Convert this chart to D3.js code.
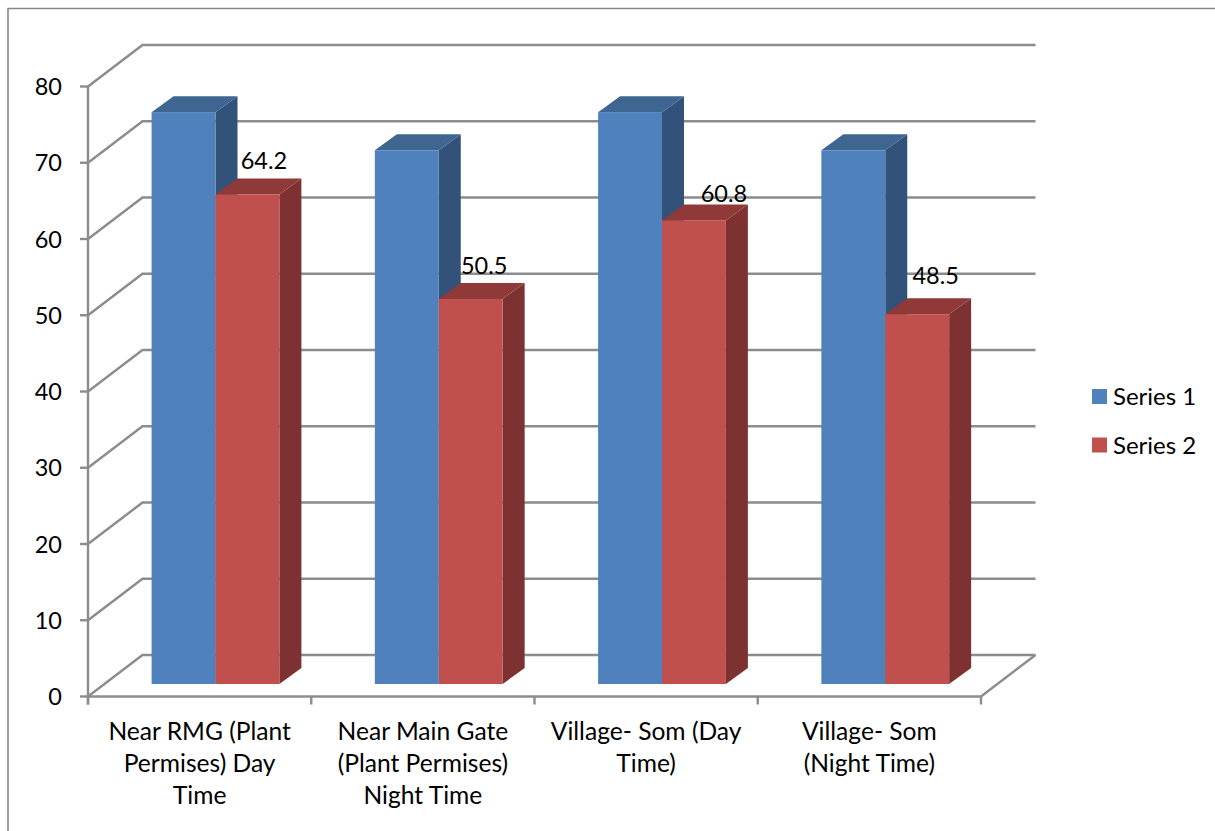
<!DOCTYPE html>
<html><head><meta charset="utf-8">
<script src="https://cdn.jsdelivr.net/npm/d3@7"></script>
<style>html,body{margin:0;padding:0;background:#fff}svg{display:block}text{font-family:Lato,"Open Sans",sans-serif;fill:#000}</style>
</head><body><svg id="c" width="1215" height="831"></svg>
<script>
const categories=[["Near RMG (Plant","Permises) Day","Time"],["Near Main Gate","(Plant Permises)","Night Time"],["Village- Som (Day","Time)"],["Village- Som","(Night Time)"]];
const categoryIds=[0,1,2,3];
const seriesNames=["Series 1","Series 2"];
const series1=[75,70,75,70];
const series2=[64.2,50.5,60.8,48.5];
const labels2=["64.2","50.5","60.8","48.5"];
const yTicks=[0,10,20,30,40,50,60,70,80];
const colors=[{f:"#4f81bd",t:"#3f6591",s:"#32527a"},{f:"#c0504d",t:"#8f3a38",s:"#7d3130"}];
const labelNudgeX=[-2.5,-5.5,11,-0.5];
const labelNudgeY=[0,0,7,-5];

const svg=d3.select("#c");
const grid="#8c8c8c";
const y=d3.scaleLinear().domain([0,80]).range([696.5,86.5]);
const x=d3.scaleBand().domain(categoryIds).range([88,981]);
const inner=d3.scaleBand().domain([0,1]).range([63.6,191.4]);
const wallDx=54.5,wallDy=-41.5,barDy=-12.5,dDx=22,dDy=-16;

// frame
svg.append("path").attr("d","M8,831V8.5H1215").attr("fill","none").attr("stroke","#868686").attr("stroke-width",1.6);

// walls
const gl=svg.append("g").attr("fill","none").attr("stroke",grid).attr("stroke-width",2.4);
yTicks.forEach(t=>{
  const p=d3.path();
  p.moveTo(x.range()[0],y(t));p.lineTo(x.range()[0]+wallDx,y(t)+wallDy);p.lineTo(x.range()[1]+wallDx,y(t)+wallDy);
  gl.append("path").attr("d",p.toString());
  gl.append("line").attr("x1",x.range()[0]-8).attr("x2",x.range()[0]).attr("y1",y(t)).attr("y2",y(t));
});
// axis lines
gl.append("line").attr("x1",88).attr("x2",88).attr("y1",y(80)).attr("y2",y(0)+8);
gl.append("line").attr("x1",88).attr("x2",981).attr("y1",y(0)).attr("y2",y(0));
gl.append("line").attr("x1",981).attr("x2",981+wallDx).attr("y1",y(0)).attr("y2",y(0)+wallDy);
categoryIds.concat([4]).forEach(i=>{
  const px=88+i*x.bandwidth();
  gl.append("line").attr("x1",px).attr("x2",px).attr("y1",y(0)).attr("y2",y(0)+8);
});

// bars
const base=y(0)+barDy;
function bar(g,i,sIdx,v){
  const l=x(i)+inner(sIdx),w=inner.bandwidth(),top=y(v)+barDy,c=colors[sIdx];
  const poly=(pts,fill)=>g.append("polygon").attr("points",pts.map(p=>p.join(",")).join(" ")).attr("fill",fill);
  poly([[l+w,top],[l+w+dDx,top+dDy],[l+w+dDx,base+dDy],[l+w,base]],c.s);
  poly([[l,top],[l+dDx,top+dDy],[l+w+dDx,top+dDy],[l+w,top]],c.t);
  g.append("rect").attr("x",l).attr("y",top).attr("width",w).attr("height",base-top).attr("fill",c.f);
}
const bars=svg.append("g");
categoryIds.forEach(i=>{bar(bars,i,0,series1[i]);bar(bars,i,1,series2[i]);});

// y labels
svg.append("g").selectAll("text").data(yTicks).join("text")
  .attr("x",62).attr("y",d=>y(d)+8.5).attr("text-anchor","end").attr("font-size",23.5).text(d=>d);

// x labels
categoryIds.forEach(i=>{
  const cx=x(i)+x.bandwidth()/2;
  categories[i].forEach((ln,k)=>svg.append("text").attr("x",cx).attr("y",739.5+k*32).attr("text-anchor","middle").attr("font-size",24.6).text(ln));
});

// data labels
categoryIds.forEach(i=>{
  const cx=x(i)+inner(1)+inner.bandwidth()/2+dDx-3+labelNudgeX[i];
  svg.append("text").attr("x",cx).attr("y",y(series2[i])+barDy+dDy-9+labelNudgeY[i]).attr("text-anchor","middle").attr("font-size",23.5).text(labels2[i]);
});

// legend
const lg=svg.append("g");
seriesNames.forEach((n,k)=>{
  const ly=396.5+k*48.5;
  lg.append("rect").attr("x",1092).attr("y",ly-7.5).attr("width",15).attr("height",15).attr("fill",colors[k].f);
  lg.append("text").attr("x",1113).attr("y",ly+8.5).attr("font-size",24).text(n);
});
</script></body></html>
